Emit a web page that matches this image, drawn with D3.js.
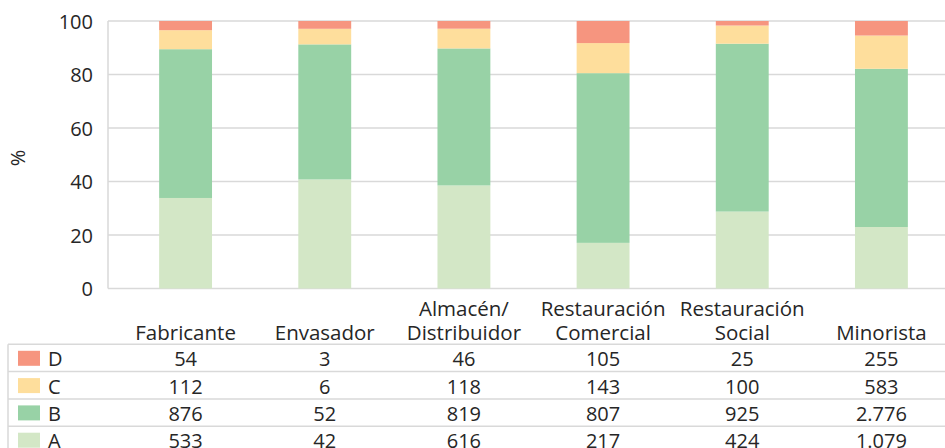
<!DOCTYPE html>
<html>
<head>
<meta charset="utf-8">
<script src="https://cdn.jsdelivr.net/npm/d3@7"></script>
<style>
  body { margin: 0; background: #fff; }
  svg { display: block; font-family: "Open Sans", sans-serif; }
</style>
</head>
<body>
<script>
// categories and counts per class
var categories = [["Fabricante"], ["Envasador"], ["Almacén/", "Distribuidor"],
  ["Restauración", "Comercial"], ["Restauración", "Social"], ["Minorista"]];
var seriesNames = ["A", "B", "C", "D"];
var valuesA = [533, 42, 616, 217, 424, 1079];
var valuesB = [876, 52, 819, 807, 925, 2776];
var valuesC = [112, 6, 118, 143, 100, 583];
var valuesD = [54, 3, 46, 105, 25, 255];
var yTicks = [0, 20, 40, 60, 80, 100];
var colors = { A: "#d3e7c6", B: "#98d2a6", C: "#fede9c", D: "#f6957f" };

var W = 945, H = 448;
var svg = d3.select("body").append("svg").attr("width", W).attr("height", H);

var series = { A: valuesA, B: valuesB, C: valuesC, D: valuesD };
var rows = categories.map(function(c, i) {
  var r = { key: i };
  seriesNames.forEach(function(s) { r[s] = series[s][i]; });
  return r;
});

var x = d3.scaleBand().domain(d3.range(categories.length))
    .range([116, 951]).paddingInner(0.62).paddingOuter(0.31);
var y = d3.scaleLinear().domain([0, 100]).range([288.5, 21]);

var stack = d3.stack().keys(seriesNames).offset(d3.stackOffsetExpand);
var layers = stack(rows);

// gridlines
svg.append("g").selectAll("line").data(yTicks).enter().append("line")
  .attr("x1", 108).attr("x2", W)
  .attr("y1", function(d) { return y(d); }).attr("y2", function(d) { return y(d); })
  .attr("stroke", "#d9d9d9").attr("stroke-width", 1.5);
svg.append("line").attr("x1", 108).attr("x2", 108)
  .attr("y1", y(100)).attr("y2", y(0))
  .attr("stroke", "#d9d9d9").attr("stroke-width", 1.5);

// bars
svg.append("g").selectAll("g").data(layers).enter().append("g")
    .attr("fill", function(d) { return colors[d.key]; })
  .selectAll("rect").data(function(d) { return d; }).enter().append("rect")
    .attr("x", function(d, i) { return x(i); })
    .attr("width", x.bandwidth())
    .attr("y", function(d) { return y(d[1] * 100); })
    .attr("height", function(d) { return y(d[0] * 100) - y(d[1] * 100); });

// y axis labels
var yAxis = svg.append("g").attr("transform", "translate(93,0)")
  .call(d3.axisLeft(y).tickValues(yTicks).tickSize(0).tickPadding(0));
yAxis.select(".domain").remove();
yAxis.selectAll("text").attr("font-size", 20).attr("fill", "#262626")
  .attr("font-family", "Open Sans, sans-serif").attr("dy", "0.35em");

svg.append("text").attr("transform", "translate(25,158) rotate(-90)")
  .attr("text-anchor", "middle").attr("font-size", 20).attr("fill", "#262626")
  .text("%");

// category header, one text per line
var header = svg.append("g").selectAll("g").data(categories).enter().append("g");
header.selectAll("text").data(function(d, i) {
    var lines = d.length === 1 ? [null, d[0]] : d;
    return lines.map(function(t, j) { return { t: t, j: j, i: i }; })
      .filter(function(o) { return o.t !== null; });
  })
  .enter().append("text")
  .attr("text-anchor", "middle").attr("font-size", 20.5).attr("fill", "#262626")
  .attr("x", function(d) { return x(d.i) + x.bandwidth() / 2; })
  .attr("y", function(d) { return 316 + d.j * 24; })
  .text(function(d) { return d.t; });

// data table
var tableTop = 344.3, rowH = 27.3, tableLeft = 8;
var tableOrder = ["D", "C", "B", "A"];
var tbl = svg.append("g");
tbl.selectAll("line.h").data(d3.range(tableOrder.length + 1)).enter().append("line")
  .attr("x1", tableLeft).attr("x2", W)
  .attr("y1", function(d) { return tableTop + d * rowH; })
  .attr("y2", function(d) { return tableTop + d * rowH; })
  .attr("stroke", "#d9d9d9").attr("stroke-width", 1.5);
tbl.append("line").attr("x1", tableLeft).attr("x2", tableLeft)
  .attr("y1", tableTop).attr("y2", H)
  .attr("stroke", "#d9d9d9").attr("stroke-width", 1.5);

var fmt = d3.formatLocale({ decimal: ",", thousands: ".", grouping: [3], currency: ["", ""] }).format(",d");
var trow = tbl.selectAll("g.row").data(tableOrder).enter().append("g")
  .attr("transform", function(d, i) { return "translate(0," + (tableTop + i * rowH) + ")"; });
trow.append("rect").attr("x", 18).attr("y", 6.5).attr("width", 22).attr("height", 15)
  .attr("fill", function(d) { return colors[d]; });
trow.append("text").attr("x", 48).attr("y", 22).attr("font-size", 20).attr("fill", "#262626")
  .text(function(d) { return d; });
trow.selectAll("text.v").data(function(d) { return series[d]; }).enter().append("text")
  .attr("class", "v").attr("text-anchor", "middle").attr("font-size", 20).attr("fill", "#262626")
  .attr("x", function(d, i) { return x(i) + x.bandwidth() / 2; })
  .attr("y", 22)
  .text(function(d) { return fmt(d); });
</script>
</body>
</html>
